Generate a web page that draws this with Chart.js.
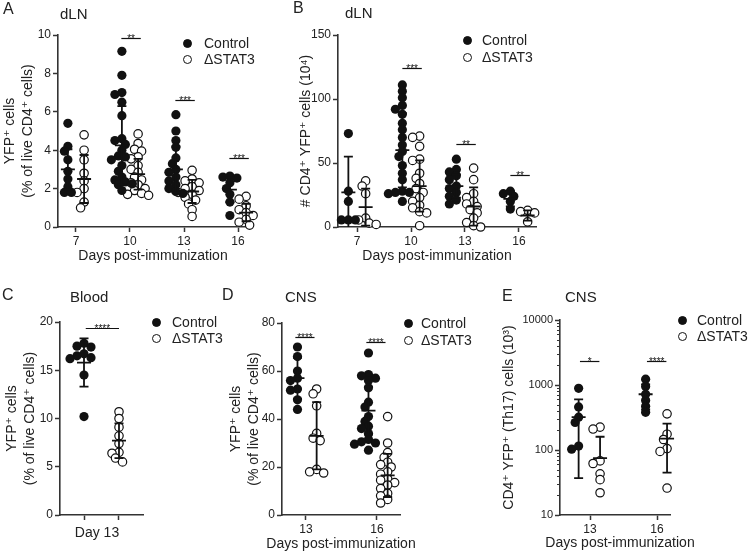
<!DOCTYPE html>
<html>
<head>
<meta charset="utf-8">
<script src="https://cdn.jsdelivr.net/npm/chart.js@4.4.1/dist/chart.umd.min.js"></script>
<style>
  body { margin: 0; background: #fff; }
  #wrap { position: relative; width: 748px; height: 551px; overflow: hidden;
          font-family: 'Liberation Sans', Arial, 'DejaVu Sans', sans-serif; color: #222; }
  .layer { position: absolute; left: 0; top: 0; width: 748px; height: 551px; }
  .txt { position: absolute; white-space: nowrap; line-height: 1; }
  .letter { font-size: 16px; }
  .ttl { font-size: 15px; }
  .xt { font-size: 14px; line-height: 16px; transform: translateX(-50%); }
  .leg { position: absolute; font-size: 14px; line-height: 16px; white-space: nowrap; }
  .dot { position: absolute; width: 9px; height: 9px; border-radius: 50%; box-sizing: border-box; border: 1.3px solid #111; }
</style>
</head>
<body>
<div id="wrap">
  <div class="layer"><canvas id="chartA"></canvas></div>
  <div class="layer"><canvas id="chartB"></canvas></div>
  <div class="layer"><canvas id="chartC"></canvas></div>
  <div class="layer"><canvas id="chartD"></canvas></div>
  <div class="layer"><canvas id="chartE"></canvas></div>
</div>
<script>
// ---- data ----
const seriesNames = ['Control', 'ΔSTAT3'];

// A: dLN, % YFP+ of live CD4+
const aDays = ['7', '10', '13', '16'];
const aTicks = [0, 2, 4, 6, 8, 10];
const aControl = [
  [5.4, 4.2, 3.95, 3.5, 2.9, 2.5, 2.1, 1.8, 1.8],
  [9.15, 7.9, 7.0, 6.9, 6.5, 5.8, 4.6, 4.5, 4.3, 4.0, 3.7, 3.65, 3.5, 3.2, 2.9, 2.6, 2.45, 2.35, 2.25, 2.2, 1.9],
  [5.85, 5.0, 4.5, 4.15, 3.6, 3.3, 3.0, 2.85, 2.6, 2.4, 2.2, 2.0, 1.85, 1.75],
  [2.65, 2.6, 2.55, 2.3, 2.0, 1.7, 1.3, 0.6]
];
const aStat3 = [
  [4.8, 4.0, 3.5, 2.8, 2.4, 2.0, 1.8, 1.3, 1.0],
  [4.85, 4.35, 4.05, 3.95, 3.65, 3.55, 3.2, 3.0, 2.85, 2.6, 2.45, 2.3, 2.2, 2.0, 1.9, 1.75, 1.7, 1.65],
  [2.95, 2.5, 2.4, 2.3, 2.1, 2.0, 1.9, 1.8, 1.7, 1.55, 1.4, 1.2, 0.9, 0.55],
  [1.6, 1.45, 1.1, 0.9, 0.75, 0.6, 0.4, 0.25, 0.1]
];
const aControlMean = [3.0, 4.25, 3.0, 1.95];
const aControlSd = [1.05, 2.05, 1.2, 0.65];
const aStat3Mean = [2.5, 2.75, 1.85, 0.75];
const aStat3Sd = [1.25, 0.8, 0.6, 0.45];
const aSig = ['', '**', '***', '***'];
const aSigY = [null, 9.85, 6.6, 3.6];

// B: dLN, # CD4+ YFP+ cells (10^4)
const bDays = ['7', '10', '13', '16'];
const bTicks = [0, 50, 100, 150];
const bControl = [
  [73, 28, 20, 5.5, 5.5, 5.5],
  [111, 106, 101, 95, 92, 88, 81, 76, 70, 64, 59, 55, 48, 42, 37, 28, 27, 27, 26, 20],
  [53, 45, 43, 40, 37, 32, 30, 27, 24, 21, 18],
  [28, 26, 24, 20, 14]
];
const bStat3 = [
  [36, 32, 26, 7, 5.5, 3, 2],
  [71, 70, 63, 53, 52, 42, 38, 34, 30, 27, 23, 20, 17, 15, 12, 11, 1],
  [46, 37, 26, 23, 20, 18, 16, 13.5, 11, 7, 3.5, 1, 0],
  [13, 12, 11, 4]
];
const bControlMean = [27, 60, 32, 22];
const bControlSd = [28, 29, 9, 6];
const bStat3Mean = [15.5, 32, 16, 9];
const bStat3Sd = [14.5, 20, 15, 4];
const bSig = ['', '***', '**', '**'];
const bSigY = [null, 124, 65, 41];

// C: Blood, day 13
const cDay = 'Day 13';
const cTicks = [0, 5, 10, 15, 20];
const cControl = [17.8, 17.5, 17.4, 16.7, 16.5, 16.3, 16.2, 14.5, 10.2];
const cStat3 = [10.7, 10.0, 9.1, 8.2, 7.4, 6.5, 6.4, 5.9, 5.5];
const cControlMean = [15.8];
const cControlSd = [2.5];
const cStat3Mean = [7.7];
const cStat3Sd = [1.8];
const cSig = ['****'];
const cSigY = [19.4];

// D: CNS, % YFP+ of live CD4+
const dDays = ['13', '16'];
const dTicks = [0, 20, 40, 60, 80];
const dControl = [
  [70, 66, 60, 57, 56, 52.5, 52, 48, 44],
  [67.5, 58.5, 58, 57, 56, 53, 47, 45, 41, 39, 37, 36, 34, 31.5, 30.5, 30, 29.5, 27]
];
const dStat3 = [
  [52.5, 50.5, 45.5, 34, 32, 31, 19, 18, 17.5],
  [41, 30, 26, 24, 22, 21, 20, 18, 17, 15, 14.5, 13.5, 12.5, 11, 9, 8, 6.5, 5]
];
const dControlMean = [57, 43.5];
const dControlSd = [8.5, 10];
const dStat3Mean = [33, 16.5];
const dStat3Sd = [14, 9];
const dSig = ['****', '****'];
const dSigY = [74, 72];

// E: CNS, CD4+ YFP+ (Th17) cells (10^3), log axis
const eDays = ['13', '16'];
const eTicks = [10, 100, 1000, 10000];
const eControl = [
  [890, 460, 320, 265, 115, 103],
  [1230, 950, 720, 580, 470, 380]
];
const eStat3 = [
  [225, 210, 68, 62, 43, 35, 22],
  [360, 175, 145, 105, 95, 26]
];
const eControlMean = [320, 720];
const eControlSd = [283, 300];
const eStat3Mean = [75, 150];
const eStat3Sd = [85, 105];
const eSig = ['*', '****'];
const eSigY = [2300, 2300];

// ---- drawing ----
const FONT = "'Liberation Sans', Arial, 'DejaVu Sans', sans-serif";
const INK = '#111';
Chart.defaults.font.family = FONT;
Chart.defaults.color = '#222';

// spread points sideways like a column scatter so they don't sit on top of each other
function swarm(vals, center, pxPerX, toPx) {
  const STEP = 3.5, MIN = 5.8;
  const placed = [];
  const out = new Array(vals.length);
  const order = vals.map((v, i) => i).sort((a, b) => vals[b] - vals[a]);
  order.forEach(i => {
    const py = toPx(vals[i]);
    let dx = 0;
    for (let k = 0; k < 30; k++) {
      const cand = (k === 0 ? 0 : (k % 2 ? -1 : 1) * Math.ceil(k / 2)) * STEP;
      if (placed.every(p => Math.hypot(p.x - cand, p.y - py) >= MIN)) { dx = cand; break; }
    }
    placed.push({ x: dx, y: py });
    out[i] = { x: center + dx / pxPerX, y: vals[i] };
  });
  return out;
}

const prismPlugin = {
  id: 'prism',
  afterDatasetsDraw(chart, args, opts) {
    const ctx = chart.ctx, xs = chart.scales.x, ys = chart.scales.y;
    ctx.save();
    ctx.strokeStyle = INK;
    ctx.lineWidth = 1.8;
    opts.groups.forEach(g => {
      g.means.forEach((m, i) => {
        const x = xs.getPixelForValue(i + g.offset);
        const ym = ys.getPixelForValue(m);
        const hi = m + g.sds[i], lo = m - g.sds[i];
        const yh = ys.getPixelForValue(hi);
        const hasLo = lo > ys.min;
        const yl = hasLo ? ys.getPixelForValue(lo) : (opts.log ? ym : ys.bottom);
        ctx.beginPath();
        ctx.moveTo(x, yh); ctx.lineTo(x, yl);
        ctx.moveTo(x - 7, ym); ctx.lineTo(x + 7, ym);
        ctx.moveTo(x - 4.5, yh); ctx.lineTo(x + 4.5, yh);
        if (hasLo) { ctx.moveTo(x - 4.5, yl); ctx.lineTo(x + 4.5, yl); }
        ctx.stroke();
      });
    });
    // significance bars
    ctx.lineWidth = 1.2;
    ctx.fillStyle = INK;
    ctx.font = '10px ' + FONT;
    ctx.textAlign = 'center';
    ctx.textBaseline = 'alphabetic';
    opts.sig.labels.forEach((s, i) => {
      if (!s) return;
      const y = Math.round(ys.getPixelForValue(opts.sig.values[i])) + 0.5;
      const x1 = xs.getPixelForValue(i + opts.sig.span[0]);
      const x2 = xs.getPixelForValue(i + opts.sig.span[1]);
      ctx.beginPath(); ctx.moveTo(x1, y); ctx.lineTo(x2, y); ctx.stroke();
      ctx.fillText(s, (x1 + x2) / 2, y + 3);
    });
    // minor ticks on the log axis
    if (opts.log) {
      ctx.strokeStyle = '#333';
      ctx.lineWidth = 1;
      ctx.beginPath();
      for (let dec = ys.min; dec < ys.max; dec *= 10) {
        for (let k = 2; k <= 9; k++) {
          const y = Math.round(ys.getPixelForValue(k * dec)) + 0.5;
          ctx.moveTo(xs.left - 3, y); ctx.lineTo(xs.left, y);
        }
      }
      ctx.stroke();
    }
    ctx.restore();
  }
};

function axisStyle() {
  return {
    grid: { drawOnChartArea: false, drawTicks: true, tickLength: 5, color: '#333', tickWidth: 1.5 },
    border: { display: true, color: '#333', width: 1.6 }
  };
}

function panel(c) {
  const plotW = c.right - c.left, plotH = c.bottom - c.top;
  const pxPerX = plotW / (c.xMax - c.xMin);
  const toPx = c.log
    ? v => Math.log10(v) * plotH / Math.log10(c.yMax / c.yMin)
    : v => v * plotH / (c.yMax - c.yMin);

  const datasets = c.groups.map(g => ({
    label: g.name,
    data: g.values.flatMap((vals, i) => swarm(vals, i + g.offset, pxPerX, toPx)),
    pointRadius: g.filled ? 4.6 : 4.2,
    pointHoverRadius: 4,
    pointBackgroundColor: g.filled ? INK : '#fff',
    pointBorderColor: INK,
    pointBorderWidth: g.filled ? 0 : 1.2,
    showLine: false,
    clip: false
  }));

  new Chart(document.getElementById(c.id), {
    type: 'scatter',
    data: { datasets },
    options: {
      responsive: true,
      maintainAspectRatio: false,
      animation: false,
      layout: {
        padding: {
          left: c.left - c.yAxisW,
          right: 748 - c.right,
          top: c.top,
          bottom: Math.max(0, 551 - c.bottom - c.xAxisH)
        }
      },
      plugins: {
        legend: { display: false },
        tooltip: { enabled: false },
        prism: {
          log: !!c.log,
          groups: c.groups,
          sig: c.sig
        }
      },
      scales: {
        x: {
          type: 'linear',
          min: c.xMin,
          max: c.xMax,
          afterBuildTicks: s => { s.ticks = c.xTicks.map(v => ({ value: v })); },
          ticks: { callback: (v, i) => c.xLabels[i], font: { size: 12 }, color: '#222', padding: 2, maxRotation: 0, autoSkip: false },
          title: { display: !c.htmlXTitle, text: c.xTitle, font: { size: 14 }, color: '#222', padding: { top: 0, bottom: 0 } },
          afterFit: s => { s.height = c.xAxisH; },
          ...axisStyle()
        },
        y: {
          type: c.log ? 'logarithmic' : 'linear',
          min: c.yMin,
          max: c.yMax,
          afterBuildTicks: s => { s.ticks = c.yTicks.map(v => ({ value: v })); },
          ticks: { callback: v => String(v), font: { size: c.log ? 11 : 12 }, color: '#222', padding: 2 },
          title: { display: true, text: c.yTitle, font: { size: 14, lineHeight: 1.3 }, color: '#222', padding: { top: c.yTitlePad, bottom: 0 } },
          afterFit: s => { s.width = c.yAxisW; },
          ...axisStyle()
        }
      }
    },
    plugins: [prismPlugin]
  });
}

const DAYS_TITLE = 'Days post-immunization';

panel({
  id: 'chartA', left: 58, right: 248, top: 35, bottom: 227, yAxisW: 58, xAxisH: 38, yTitlePad: 1,
  xMin: -0.333, xMax: 3.185, xTicks: [0, 1, 2, 3], xLabels: aDays, xTitle: DAYS_TITLE,
  yMin: 0, yMax: 10, yTicks: aTicks, yTitle: ['YFP⁺ cells', '(% of live CD4⁺ cells)'],
  groups: [
    { name: seriesNames[0], filled: true, offset: -0.15, values: aControl, means: aControlMean, sds: aControlSd },
    { name: seriesNames[1], filled: false, offset: 0.15, values: aStat3, means: aStat3Mean, sds: aStat3Sd }
  ],
  sig: { labels: aSig, values: aSigY, span: [-0.16, 0.2] }
});

panel({
  id: 'chartB', left: 338, right: 536, top: 35, bottom: 227, yAxisW: 41, xAxisH: 38, yTitlePad: 0,
  xMin: -0.352, xMax: 3.315, xTicks: [0, 1, 2, 3], xLabels: bDays, xTitle: DAYS_TITLE,
  yMin: 0, yMax: 150, yTicks: bTicks, yTitle: '# CD4⁺ YFP⁺ cells (10⁴)',
  groups: [
    { name: seriesNames[0], filled: true, offset: -0.16, values: bControl, means: bControlMean, sds: bControlSd },
    { name: seriesNames[1], filled: false, offset: 0.16, values: bStat3, means: bStat3Mean, sds: bStat3Sd }
  ],
  sig: { labels: bSig, values: bSigY, span: [-0.16, 0.2] }
});

// C: the "Day 13" label sits a little left of the axis middle, so it is page text too
panel({
  id: 'chartC', left: 60, right: 143, top: 322, bottom: 515, yAxisW: 60, xAxisH: 26, yTitlePad: 3, htmlXTitle: true,
  xMin: -0.686, xMax: 1.686, xTicks: [0, 1], xLabels: ['', ''], xTitle: cDay,
  yMin: 0, yMax: 20, yTicks: cTicks, yTitle: ['YFP⁺ cells', '(% of live CD4⁺ cells)'],
  groups: [
    { name: seriesNames[0], filled: true, offset: 0, values: [cControl], means: cControlMean, sds: cControlSd },
    { name: seriesNames[1], filled: false, offset: 1, values: [cStat3], means: cStat3Mean, sds: cStat3Sd }
  ],
  sig: { labels: cSig, values: cSigY, span: [0.05, 1.0] }
});

// D and E axes are narrower than their titles, so those titles are placed as page text below
panel({
  id: 'chartD', left: 282, right: 400, top: 323, bottom: 515, yAxisW: 55, xAxisH: 36, yTitlePad: 0, htmlXTitle: true,
  xMin: -0.338, xMax: 1.324, xTicks: [0, 1], xLabels: dDays, xTitle: DAYS_TITLE,
  yMin: 0, yMax: 80, yTicks: dTicks, yTitle: ['YFP⁺ cells', '(% of live CD4⁺ cells)'],
  groups: [
    { name: seriesNames[0], filled: true, offset: -0.12, values: dControl, means: dControlMean, sds: dControlSd },
    { name: seriesNames[1], filled: false, offset: 0.15, values: dStat3, means: dStat3Mean, sds: dStat3Sd }
  ],
  sig: { labels: dSig, values: dSigY, span: [-0.15, 0.12] }
});

panel({
  id: 'chartE', left: 560, right: 670, top: 320, bottom: 515, yAxisW: 60, xAxisH: 36, yTitlePad: 0, log: true, htmlXTitle: true,
  xMin: -0.448, xMax: 1.194, xTicks: [0, 1], xLabels: eDays, xTitle: DAYS_TITLE,
  yMin: 10, yMax: 10000, yTicks: eTicks, yTitle: 'CD4⁺ YFP⁺ (Th17) cells (10³)',
  groups: [
    { name: seriesNames[0], filled: true, offset: -0.17, values: eControl, means: eControlMean, sds: eControlSd },
    { name: seriesNames[1], filled: false, offset: 0.15, values: eStat3, means: eStat3Mean, sds: eStat3Sd }
  ],
  sig: { labels: eSig, values: eSigY, span: [-0.15, 0.14] }
});

// ---- panel letters, titles, legends ----
const wrap = document.getElementById('wrap');
function addText(cls, text, x, y) {
  const d = document.createElement('div');
  d.className = 'txt ' + cls;
  d.style.left = x + 'px';
  d.style.top = y + 'px';
  d.textContent = text;
  wrap.appendChild(d);
}
[['A', 3, 1], ['B', 293, 0], ['C', 2, 287], ['D', 222, 287], ['E', 502, 288]]
  .forEach(([t, x, y]) => addText('letter', t, x, y));
[['dLN', 60, 6], ['dLN', 345, 5], ['Blood', 70, 289], ['CNS', 285, 289], ['CNS', 565, 289]]
  .forEach(([t, x, y]) => addText('ttl', t, x, y));
addText('xt', cDay, 97, 524);
addText('xt', DAYS_TITLE, 341, 535);
addText('xt', DAYS_TITLE, 620, 534);

function addLegend(dotX, textX, y0, gap) {
  seriesNames.forEach((name, i) => {
    const y = y0 + i * gap;
    const dot = document.createElement('div');
    dot.className = 'dot';
    dot.style.left = (dotX - 4.5) + 'px';
    dot.style.top = (y - 4.5) + 'px';
    dot.style.background = i === 0 ? INK : '#fff';
    wrap.appendChild(dot);
    const t = document.createElement('div');
    t.className = 'leg';
    t.style.left = textX + 'px';
    t.style.top = (y - 8) + 'px';
    t.textContent = name;
    wrap.appendChild(t);
  });
}
addLegend(187, 204, 43, 16);
addLegend(467, 482, 40, 17);
addLegend(156, 172, 322, 16);
addLegend(408, 421, 323, 17);
addLegend(682, 697, 320, 16);
</script>
</body>
</html>
